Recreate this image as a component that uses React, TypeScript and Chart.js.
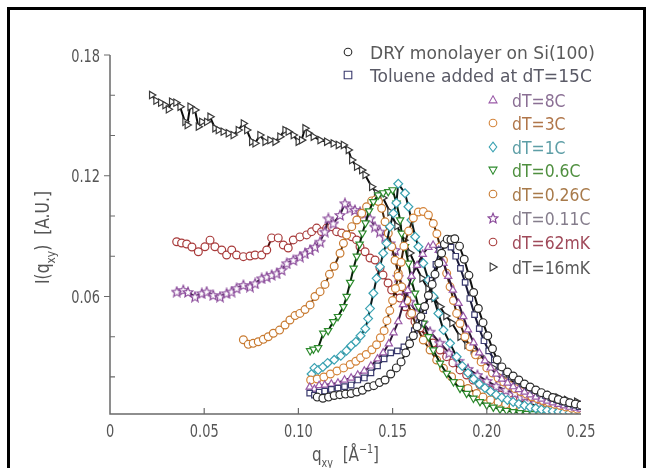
import React, { useEffect, useRef } from 'react';
import { Chart, registerables } from 'chart.js';

Chart.register(...registerables);

// ---------- axis ticks ----------
const xTickValues = [0, 0.05, 0.1, 0.15, 0.2, 0.25];
const xTickLabels = ['0', '0.05', '0.10', '0.15', '0.20', '0.25'];
const xInnerTicks = [0.05, 0.1, 0.15, 0.2];
const yTickValues = [0.06, 0.12, 0.18];
const yTickLabels = ['0.06', '0.12', '0.18'];
const yMinorTicks = [0.02, 0.04, 0.08, 0.1, 0.14, 0.16];

// ---------- series labels ----------
const seriesLabels = [
  'DRY monolayer on Si(100)',
  'Toluene added at dT=15C',
  'dT=8C',
  'dT=3C',
  'dT=1C',
  'dT=0.6C',
  'dT=0.26C',
  'dT=0.11C',
  'dT=62mK',
  'dT=16mK',
];

// ---------- data (q_xy, I) ----------
const dryQ = [0.110, 0.113, 0.116, 0.119, 0.122, 0.125, 0.128, 0.131, 0.134, 0.137, 0.140, 0.143, 0.146, 0.149, 0.152, 0.1545, 0.157, 0.159, 0.161, 0.163, 0.165, 0.167, 0.169, 0.171, 0.1725, 0.1745, 0.176, 0.1775, 0.179, 0.181, 0.183, 0.1855, 0.188, 0.1905, 0.193, 0.1955, 0.198, 0.2005, 0.203, 0.2055, 0.208, 0.211, 0.214, 0.217, 0.220, 0.223, 0.226, 0.229, 0.232, 0.235, 0.238, 0.241, 0.244, 0.247, 0.250];
const dryI = [0.0100, 0.0094, 0.0100, 0.0108, 0.0112, 0.0115, 0.0118, 0.0125, 0.0134, 0.0150, 0.0157, 0.0172, 0.0185, 0.0215, 0.0245, 0.0275, 0.0320, 0.0365, 0.0405, 0.0450, 0.0500, 0.0550, 0.0605, 0.0660, 0.0710, 0.0765, 0.0815, 0.0860, 0.0885, 0.0882, 0.0887, 0.0850, 0.0785, 0.0705, 0.0620, 0.0540, 0.0470, 0.0405, 0.0340, 0.0285, 0.0250, 0.0225, 0.0205, 0.0185, 0.0165, 0.0150, 0.0135, 0.0122, 0.0110, 0.0098, 0.0088, 0.0080, 0.0072, 0.0066, 0.0060];

const tolQ = [0.106, 0.1085, 0.111, 0.114, 0.1175, 0.121, 0.1245, 0.128, 0.1315, 0.135, 0.1385, 0.142, 0.1455, 0.149, 0.1525, 0.156, 0.159, 0.1615, 0.164, 0.1665, 0.169, 0.171, 0.173, 0.175, 0.177, 0.179, 0.181, 0.1835, 0.186, 0.1885, 0.191, 0.1935, 0.196, 0.1985, 0.201, 0.204, 0.207, 0.210, 0.213, 0.216, 0.219, 0.222, 0.225, 0.228, 0.231, 0.234, 0.237, 0.240, 0.243, 0.246, 0.249];
const tolI = [0.0120, 0.0110, 0.0125, 0.0130, 0.0138, 0.0145, 0.0152, 0.0160, 0.0185, 0.0195, 0.0220, 0.0255, 0.0290, 0.0320, 0.0330, 0.0350, 0.0385, 0.0430, 0.0470, 0.0530, 0.0600, 0.0680, 0.0760, 0.0830, 0.0855, 0.0860, 0.0845, 0.0800, 0.0740, 0.0670, 0.0590, 0.0510, 0.0440, 0.0380, 0.0330, 0.0285, 0.0250, 0.0225, 0.0200, 0.0180, 0.0165, 0.0150, 0.0135, 0.0120, 0.0108, 0.0096, 0.0086, 0.0076, 0.0068, 0.0060, 0.0053];

const t8Q = [0.106, 0.1085, 0.111, 0.114, 0.1175, 0.121, 0.1245, 0.128, 0.1315, 0.135, 0.1385, 0.142, 0.145, 0.148, 0.1505, 0.153, 0.1555, 0.158, 0.160, 0.163, 0.166, 0.169, 0.1715, 0.1745, 0.177, 0.1795, 0.182, 0.185, 0.1875, 0.190, 0.193, 0.196, 0.199, 0.202, 0.205, 0.208, 0.211, 0.214, 0.217, 0.220, 0.223, 0.226, 0.229, 0.232, 0.235, 0.238, 0.241, 0.244, 0.247, 0.250];
const t8I = [0.0150, 0.0140, 0.0158, 0.0160, 0.0165, 0.0170, 0.0185, 0.0195, 0.0210, 0.0230, 0.0255, 0.0290, 0.0320, 0.0365, 0.0420, 0.0475, 0.0560, 0.0630, 0.0700, 0.0755, 0.0810, 0.0845, 0.0855, 0.0830, 0.0765, 0.0700, 0.0632, 0.0566, 0.0500, 0.0435, 0.0370, 0.0320, 0.0280, 0.0245, 0.0215, 0.0190, 0.0170, 0.0152, 0.0138, 0.0125, 0.0112, 0.0100, 0.0090, 0.0080, 0.0072, 0.0064, 0.0057, 0.0050, 0.0045, 0.0040];

const t3Q = [0.1065, 0.110, 0.1135, 0.117, 0.1205, 0.124, 0.1275, 0.1305, 0.133, 0.136, 0.139, 0.1415, 0.1435, 0.1455, 0.147, 0.1485, 0.150, 0.1515, 0.153, 0.1545, 0.156, 0.1585, 0.161, 0.1637, 0.1663, 0.169, 0.1716, 0.1735, 0.1752, 0.177, 0.1787, 0.1805, 0.1823, 0.184, 0.1858, 0.1884, 0.191, 0.194, 0.197, 0.200, 0.203, 0.206, 0.209, 0.212, 0.215, 0.218, 0.221, 0.224, 0.227, 0.230, 0.233, 0.236, 0.239, 0.242, 0.245, 0.248];
const t3I = [0.0185, 0.0190, 0.0200, 0.0215, 0.0230, 0.0245, 0.0262, 0.0278, 0.0295, 0.0312, 0.0335, 0.0360, 0.0395, 0.0430, 0.0480, 0.0530, 0.0580, 0.0640, 0.0700, 0.0770, 0.0850, 0.0925, 0.0990, 0.1020, 0.1022, 0.1005, 0.0963, 0.0912, 0.0847, 0.0780, 0.0715, 0.0648, 0.0580, 0.0516, 0.0466, 0.0400, 0.0350, 0.0310, 0.0275, 0.0245, 0.0220, 0.0195, 0.0175, 0.0158, 0.0142, 0.0128, 0.0115, 0.0102, 0.0092, 0.0082, 0.0073, 0.0065, 0.0058, 0.0051, 0.0045, 0.0040];

const t1Q = [0.107, 0.1085, 0.1105, 0.113, 0.1155, 0.119, 0.1225, 0.1255, 0.128, 0.1305, 0.133, 0.1355, 0.137, 0.138, 0.1398, 0.1415, 0.1433, 0.145, 0.1468, 0.1486, 0.1504, 0.152, 0.153, 0.1566, 0.1584, 0.160, 0.162, 0.1637, 0.1663, 0.169, 0.1716, 0.1743, 0.177, 0.1805, 0.184, 0.187, 0.190, 0.193, 0.196, 0.199, 0.202, 0.205, 0.208, 0.211, 0.214, 0.217, 0.220, 0.223, 0.226, 0.229, 0.232, 0.235, 0.238, 0.241, 0.244, 0.247, 0.250];
const t1I = [0.0215, 0.0245, 0.0235, 0.0250, 0.0270, 0.0285, 0.0305, 0.0330, 0.0355, 0.0375, 0.0405, 0.0440, 0.0490, 0.0540, 0.0616, 0.0690, 0.0748, 0.0815, 0.0864, 0.0947, 0.1013, 0.1065, 0.1160, 0.1113, 0.1046, 0.0980, 0.0897, 0.0847, 0.0765, 0.0682, 0.0600, 0.0516, 0.0433, 0.0367, 0.0300, 0.0255, 0.0220, 0.0190, 0.0165, 0.0145, 0.0128, 0.0112, 0.0098, 0.0086, 0.0076, 0.0066, 0.0058, 0.0050, 0.0044, 0.0038, 0.0034, 0.0030, 0.0027, 0.0025, 0.0023, 0.0021, 0.0020];

const t06Q = [0.1062, 0.108, 0.1105, 0.1132, 0.1158, 0.1185, 0.121, 0.1239, 0.1256, 0.1275, 0.1293, 0.131, 0.1325, 0.134, 0.1356, 0.1375, 0.1398, 0.1424, 0.145, 0.1477, 0.150, 0.1521, 0.154, 0.1548, 0.1566, 0.1584, 0.160, 0.1619, 0.1637, 0.1663, 0.169, 0.1716, 0.1752, 0.1787, 0.1823, 0.1858, 0.1893, 0.1929, 0.1964, 0.200, 0.2035, 0.207, 0.2105, 0.214, 0.2175, 0.221, 0.2245, 0.228];
const t06I = [0.0330, 0.0338, 0.0345, 0.0417, 0.0430, 0.0475, 0.0500, 0.0549, 0.0600, 0.0670, 0.0740, 0.0800, 0.0860, 0.0915, 0.0965, 0.1025, 0.1071, 0.1104, 0.1115, 0.1121, 0.1130, 0.1063, 0.0980, 0.0914, 0.0847, 0.0765, 0.0680, 0.0616, 0.0550, 0.0467, 0.0400, 0.0334, 0.0268, 0.0218, 0.0176, 0.0143, 0.0118, 0.0094, 0.0077, 0.0060, 0.0050, 0.0040, 0.0033, 0.0027, 0.0022, 0.0019, 0.0017, 0.0016];

const t026Q = [0.0708, 0.0734, 0.076, 0.0787, 0.0814, 0.084, 0.0867, 0.090, 0.0929, 0.0955, 0.0982, 0.1008, 0.1035, 0.1062, 0.1088, 0.1115, 0.1141, 0.1165, 0.119, 0.1221, 0.1239, 0.1256, 0.1283, 0.131, 0.1336, 0.1362, 0.1389, 0.1410, 0.1425, 0.1442, 0.146, 0.1477, 0.1495, 0.1513, 0.153, 0.1548, 0.1575, 0.1601, 0.1627, 0.1663, 0.1699, 0.1734, 0.177, 0.1813, 0.1858, 0.190, 0.1946, 0.198, 0.202, 0.206, 0.210, 0.214, 0.218, 0.222, 0.226, 0.230, 0.234, 0.238, 0.242, 0.246, 0.250];
const t026I = [0.0385, 0.0362, 0.0367, 0.0375, 0.0387, 0.0400, 0.0417, 0.0433, 0.0458, 0.0483, 0.0505, 0.0516, 0.0535, 0.0558, 0.0600, 0.0624, 0.0660, 0.0710, 0.0750, 0.0815, 0.0864, 0.0905, 0.0947, 0.0980, 0.1013, 0.1046, 0.1075, 0.1080, 0.1072, 0.1038, 0.0971, 0.0914, 0.0847, 0.0780, 0.0715, 0.0648, 0.0580, 0.0516, 0.0450, 0.0384, 0.0334, 0.0284, 0.0243, 0.0201, 0.0168, 0.0143, 0.0118, 0.0100, 0.0086, 0.0074, 0.0064, 0.0056, 0.0050, 0.0045, 0.0040, 0.0036, 0.0033, 0.0030, 0.0028, 0.0026, 0.0024];

const t011Q = [0.0354, 0.0389, 0.0414, 0.0451, 0.0487, 0.0513, 0.0548, 0.0584, 0.0619, 0.0645, 0.0672, 0.0708, 0.0743, 0.077, 0.0805, 0.0832, 0.0858, 0.0885, 0.0911, 0.0938, 0.0973, 0.1008, 0.1035, 0.1062, 0.1088, 0.1115, 0.1140, 0.1159, 0.1185, 0.1221, 0.1247, 0.1274, 0.130, 0.1327, 0.1354, 0.138, 0.1406, 0.1433, 0.146, 0.1486, 0.1513, 0.1529, 0.1566, 0.1592, 0.1627, 0.1661, 0.1699, 0.175, 0.180, 0.185, 0.190, 0.195, 0.200, 0.205, 0.210, 0.215, 0.220, 0.225, 0.230, 0.235, 0.240, 0.245, 0.250];
const t011I = [0.0624, 0.0632, 0.0622, 0.0599, 0.0616, 0.0624, 0.0607, 0.0599, 0.0616, 0.0624, 0.0641, 0.0657, 0.0649, 0.0665, 0.0690, 0.0698, 0.0707, 0.0715, 0.0732, 0.0765, 0.0781, 0.0798, 0.0814, 0.0831, 0.0847, 0.0872, 0.0922, 0.0988, 0.0963, 0.1005, 0.1063, 0.1038, 0.1030, 0.1021, 0.1013, 0.0988, 0.0947, 0.0922, 0.0897, 0.0864, 0.0831, 0.0698, 0.0632, 0.0574, 0.0518, 0.0468, 0.0425, 0.0370, 0.0320, 0.0280, 0.0240, 0.0210, 0.0180, 0.0155, 0.0135, 0.0120, 0.0105, 0.0095, 0.0085, 0.0075, 0.0068, 0.0060, 0.0055];

const t62Q = [0.0354, 0.038, 0.0407, 0.0435, 0.0469, 0.0504, 0.0531, 0.0557, 0.0593, 0.0619, 0.0646, 0.0672, 0.0708, 0.0743, 0.077, 0.0805, 0.0832, 0.0858, 0.0893, 0.092, 0.0946, 0.0973, 0.1008, 0.1044, 0.107, 0.1097, 0.1123, 0.115, 0.1177, 0.1203, 0.123, 0.1256, 0.1283, 0.1309, 0.1327, 0.1354, 0.138, 0.1407, 0.1433, 0.1449, 0.1476, 0.1495, 0.1539, 0.1566, 0.1592, 0.1619, 0.1645, 0.1681, 0.1714, 0.1752, 0.1787, 0.182, 0.1858, 0.1893, 0.1927, 0.1964, 0.2017, 0.207, 0.2139, 0.2212, 0.2282, 0.2351, 0.2424, 0.2484];
const t62I = [0.0872, 0.0866, 0.0861, 0.0846, 0.0822, 0.0847, 0.0880, 0.0847, 0.0831, 0.0806, 0.0831, 0.0806, 0.0798, 0.0801, 0.0806, 0.0806, 0.0831, 0.0891, 0.0891, 0.0856, 0.0841, 0.0881, 0.0896, 0.0906, 0.0922, 0.0940, 0.0922, 0.0940, 0.0947, 0.0922, 0.0915, 0.0905, 0.0897, 0.0881, 0.0847, 0.0822, 0.0791, 0.0781, 0.0741, 0.0707, 0.0667, 0.0632, 0.0592, 0.0549, 0.0508, 0.0475, 0.0443, 0.0400, 0.0369, 0.0334, 0.0301, 0.0270, 0.0235, 0.0210, 0.0185, 0.0160, 0.0135, 0.0110, 0.0086, 0.0071, 0.0052, 0.0046, 0.0036, 0.0036];

const t16Q = [0.0221, 0.0244, 0.0269, 0.0292, 0.031, 0.0327, 0.035, 0.0372, 0.0398, 0.041, 0.0425, 0.0451, 0.0469, 0.0487, 0.0513, 0.0531, 0.0557, 0.0575, 0.0601, 0.0628, 0.0654, 0.0681, 0.0708, 0.0726, 0.0752, 0.077, 0.0796, 0.0823, 0.0849, 0.0876, 0.0902, 0.0929, 0.0946, 0.0973, 0.0999, 0.1017, 0.1035, 0.1053, 0.1079, 0.1115, 0.115, 0.1185, 0.1212, 0.1239, 0.1265, 0.1283, 0.1309, 0.1336, 0.1354, 0.1389, 0.1415, 0.1449, 0.1486, 0.1523, 0.156, 0.1592, 0.1624, 0.1656, 0.1688, 0.172, 0.1752, 0.1783, 0.1815, 0.1858, 0.1895, 0.1928, 0.1964, 0.200, 0.2033, 0.207, 0.2113, 0.2159, 0.2203, 0.2247, 0.2288, 0.2335, 0.2378, 0.2424, 0.2477];
const t16I = [0.1601, 0.1573, 0.1563, 0.1551, 0.1530, 0.1568, 0.1563, 0.1543, 0.1468, 0.1452, 0.1543, 0.1527, 0.1444, 0.1468, 0.1468, 0.1493, 0.1436, 0.1427, 0.1419, 0.1411, 0.1402, 0.1427, 0.1460, 0.1427, 0.1369, 0.1361, 0.1402, 0.1369, 0.1377, 0.1369, 0.1394, 0.1427, 0.1419, 0.1402, 0.1369, 0.1377, 0.1436, 0.1411, 0.1394, 0.1377, 0.1369, 0.1361, 0.1353, 0.1353, 0.1328, 0.1278, 0.1245, 0.1228, 0.1204, 0.1145, 0.1114, 0.1090, 0.1020, 0.0950, 0.0880, 0.0816, 0.0750, 0.0690, 0.0637, 0.0592, 0.0549, 0.0503, 0.0468, 0.0400, 0.0359, 0.0334, 0.0304, 0.0268, 0.0245, 0.0201, 0.0185, 0.0168, 0.0152, 0.0135, 0.0123, 0.0110, 0.0098, 0.0086, 0.0077];

const seriesQ = [dryQ, tolQ, t8Q, t3Q, t1Q, t06Q, t026Q, t011Q, t62Q, t16Q];
const seriesI = [dryI, tolI, t8I, t3I, t1I, t06I, t026I, t011I, t62I, t16I];

// ---------- styles ----------
const markerColors = ['#2a2a2a', '#3a3a6e', '#9a5aa8', '#d4843a', '#3aa2b2', '#2c8a2c', '#c87a30', '#8a4a9a', '#a83a3a', '#3a3a3a'];
const lineColors = ['#111111', '#1a1a38', '#301838', '#40240c', '#0c1a1a', '#082208', '#4a280c', '#301a38', '#4a0c0c', '#0c0c0c'];
const legendTextColors = ['#5a5a5a', '#5a5a66', '#8a6f94', '#b0764a', '#5d9ea6', '#4f8f3f', '#a87a4a', '#857d8c', '#a04a5a', '#5a5a5a'];
const markerStyles = ['circle', 'rect', 'triangle', 'circle', 'rectRot', 'triangle', 'circle', 'star5', 'circle', 'triangle'];
const markerRotations = [0, 0, 0, 0, 0, 180, 0, 0, 0, 90];

const FONT = "'DejaVu Sans', 'Liberation Sans', sans-serif";
const TEXT_GRAY = '#555555';

function makeStar(color: string, size: number): HTMLCanvasElement {
  const c = document.createElement('canvas');
  c.width = size;
  c.height = size;
  const g = c.getContext('2d')!;
  const cx = size / 2;
  const cy = size / 2 + 0.5;
  const ro = size / 2 - 0.8;
  const ri = ro * 0.45;
  g.beginPath();
  for (let i = 0; i < 10; i++) {
    const r = i % 2 === 0 ? ro : ri;
    const a = -Math.PI / 2 + (i * Math.PI) / 5;
    const px = cx + r * Math.cos(a);
    const py = cy + r * Math.sin(a);
    if (i === 0) g.moveTo(px, py);
    else g.lineTo(px, py);
  }
  g.closePath();
  g.fillStyle = '#ffffff';
  g.fill();
  g.strokeStyle = color;
  g.lineWidth = 1.2;
  g.stroke();
  return c;
}

function drawText(ctx: CanvasRenderingContext2D, s: string, x: number, y: number, size: number, color: string, align: string, sx: number) {
  ctx.save();
  ctx.font = `${size}px ${FONT}`;
  ctx.fillStyle = color;
  ctx.textBaseline = 'alphabetic';
  ctx.textAlign = 'left';
  const w = ctx.measureText(s).width * sx;
  const x0 = align === 'left' ? x : align === 'right' ? x - w : x - w / 2;
  ctx.translate(x0, y);
  ctx.scale(sx, 1);
  ctx.fillText(s, 0, 0);
  ctx.restore();
}

type Seg = { t: string; size: number; dy: number };
function drawRich(ctx: CanvasRenderingContext2D, segs: Seg[], cx: number, baseY: number, color: string, sx: number) {
  ctx.save();
  ctx.fillStyle = color;
  ctx.textBaseline = 'alphabetic';
  ctx.textAlign = 'left';
  let total = 0;
  const widths = segs.map((s) => {
    ctx.font = `${s.size}px ${FONT}`;
    const w = ctx.measureText(s.t).width * sx;
    total += w;
    return w;
  });
  let x = cx - total / 2;
  segs.forEach((s, i) => {
    ctx.font = `${s.size}px ${FONT}`;
    ctx.save();
    ctx.translate(x, baseY + s.dy);
    ctx.scale(sx, 1);
    ctx.fillText(s.t, 0, 0);
    ctx.restore();
    x += widths[i];
  });
  ctx.restore();
}

function drawMarker(ctx: CanvasRenderingContext2D, style: string, rot: number, x: number, y: number, color: string, star: HTMLCanvasElement | null) {
  const r = 3.8;
  ctx.save();
  ctx.strokeStyle = color;
  ctx.fillStyle = '#ffffff';
  ctx.lineWidth = 1.1;
  ctx.translate(x, y);
  ctx.rotate((rot * Math.PI) / 180);
  ctx.beginPath();
  if (style === 'circle') {
    ctx.arc(0, 0, r, 0, Math.PI * 2);
  } else if (style === 'rect') {
    ctx.rect(-r, -r, 2 * r, 2 * r);
  } else if (style === 'rectRot') {
    ctx.moveTo(0, -r * 1.3);
    ctx.lineTo(r, 0);
    ctx.lineTo(0, r * 1.3);
    ctx.lineTo(-r, 0);
    ctx.closePath();
  } else if (style === 'triangle') {
    ctx.moveTo(0, -r * 1.1);
    ctx.lineTo(r * 1.05, r * 0.75);
    ctx.lineTo(-r * 1.05, r * 0.75);
    ctx.closePath();
  }
  if (style === 'star5' && star) {
    ctx.drawImage(star, -star.width / 2, -star.height / 2);
  } else {
    ctx.fill();
    ctx.stroke();
  }
  ctx.restore();
}

export default function App() {
  const ref = useRef<HTMLCanvasElement | null>(null);

  useEffect(() => {
    document.body.style.margin = '0';
    document.body.style.background = '#ffffff';
    const canvas = ref.current;
    if (!canvas) return;

    const star = makeStar(markerColors[7], 12);

    const datasets = seriesQ.map((qs, i) => {
      const n = Math.min(qs.length, seriesI[i].length);
      const pts = [] as { x: number; y: number }[];
      for (let k = 0; k < n; k++) pts.push({ x: qs[k], y: seriesI[i][k] });
      return {
        label: seriesLabels[i],
        data: pts,
        showLine: true,
        borderColor: lineColors[i],
        borderWidth: 2,
        pointStyle: markerStyles[i] === 'star5' ? star : (markerStyles[i] as any),
        pointRotation: markerRotations[i],
        pointRadius: markerStyles[i] === 'rectRot' ? 4.4 : markerStyles[i] === 'triangle' ? 4.2 : 3.9,
        pointBorderColor: markerColors[i],
        pointBackgroundColor: '#ffffff',
        pointBorderWidth: 1.2,
        tension: 0,
      };
    });

    const decorPlugin = {
      id: 'decor',
      beforeDraw(chart: any) {
        const ctx = chart.ctx as CanvasRenderingContext2D;
        ctx.save();
        ctx.fillStyle = '#ffffff';
        ctx.fillRect(0, 0, chart.width, chart.height);
        ctx.restore();
      },
      afterDraw(chart: any) {
        const ctx = chart.ctx as CanvasRenderingContext2D;
        const xs = chart.scales.x;
        const ys = chart.scales.y;
        const area = chart.chartArea;
        ctx.save();
        // axes
        ctx.strokeStyle = '#6a6a6a';
        ctx.lineWidth = 1.5;
        ctx.beginPath();
        ctx.moveTo(area.left, ys.getPixelForValue(0.18));
        ctx.lineTo(area.left, area.bottom);
        ctx.lineTo(xs.getPixelForValue(0.25), area.bottom);
        ctx.stroke();
        // y major ticks (outside)
        ctx.lineWidth = 1.2;
        ctx.beginPath();
        yTickValues.forEach((v) => {
          const py = ys.getPixelForValue(v);
          ctx.moveTo(area.left - 6, py);
          ctx.lineTo(area.left, py);
        });
        // y minor ticks (inside)
        yMinorTicks.forEach((v) => {
          const py = ys.getPixelForValue(v);
          ctx.moveTo(area.left, py);
          ctx.lineTo(area.left + 5, py);
        });
        // x ticks (inside)
        xInnerTicks.forEach((v) => {
          const px = xs.getPixelForValue(v);
          ctx.moveTo(px, area.bottom);
          ctx.lineTo(px, area.bottom - 6);
        });
        ctx.stroke();
        ctx.restore();

        // tick labels
        yTickValues.forEach((v, i) => {
          drawText(ctx, yTickLabels[i], area.left - 10, ys.getPixelForValue(v) + 6.5, 18, TEXT_GRAY, 'right', 0.72);
        });
        xTickValues.forEach((v, i) => {
          drawText(ctx, xTickLabels[i], xs.getPixelForValue(v), area.bottom + 23, 18, TEXT_GRAY, 'center', 0.72);
        });

        // x title
        const xc = (xs.getPixelForValue(0) + xs.getPixelForValue(0.25)) / 2;
        drawRich(ctx, [
          { t: 'q', size: 19, dy: 0 },
          { t: 'xy', size: 12, dy: 6 },
          { t: '  [Å', size: 19, dy: 0 },
          { t: '−1', size: 12, dy: -8 },
          { t: ']', size: 19, dy: 0 },
        ], xc, 461, TEXT_GRAY, 0.8);

        // y title (rotated)
        const yc = (area.top + area.bottom) / 2 + 3;
        ctx.save();
        ctx.translate(49, yc);
        ctx.rotate(-Math.PI / 2);
        drawRich(ctx, [
          { t: 'I(q', size: 19, dy: 0 },
          { t: 'xy', size: 13, dy: 6 },
          { t: ')  [A.U.]', size: 19, dy: 0 },
        ], 0, 0, TEXT_GRAY, 0.82);
        ctx.restore();

        // legend
        const rows = [52, 75, 100, 123, 147, 170, 194, 218, 242, 267];
        seriesLabels.forEach((lab, i) => {
          const mx = i < 2 ? 348 : 493;
          const tx = i < 2 ? 370 : 512;
          drawMarker(ctx, markerStyles[i], markerRotations[i], mx, rows[i], markerColors[i], star);
          drawText(ctx, lab, tx, rows[i] + 7, 18, legendTextColors[i], 'left', i < 2 ? 0.95 : 0.87);
        });

        // frame
        ctx.save();
        ctx.strokeStyle = '#000000';
        ctx.lineWidth = 3;
        ctx.beginPath();
        ctx.moveTo(8.5, 480);
        ctx.lineTo(8.5, 8.5);
        ctx.lineTo(644.5, 8.5);
        ctx.lineTo(644.5, 480);
        ctx.stroke();
        ctx.restore();
      },
    };

    const chart = new Chart(canvas, {
      type: 'scatter',
      data: { datasets: datasets as any },
      options: {
        animation: false,
        responsive: false,
        maintainAspectRatio: false,
        events: [],
        layout: { padding: { top: 55, right: 69, left: 0, bottom: 0 } },
        plugins: { legend: { display: false }, tooltip: { enabled: false }, title: { display: false } },
        scales: {
          x: {
            type: 'linear',
            min: 0,
            max: 0.25,
            ticks: { display: false },
            grid: { display: false },
            border: { display: false },
            afterFit: (s: any) => { s.height = 54; },
          },
          y: {
            type: 'linear',
            min: 0.0016,
            max: 0.18,
            ticks: { display: false },
            grid: { display: false },
            border: { display: false },
            afterFit: (s: any) => { s.width = 110; },
          },
        },
      },
      plugins: [decorPlugin],
    });

    return () => chart.destroy();
  }, []);

  return (
    <div style={{ width: 650, height: 468, overflow: 'hidden' }}>
      <canvas ref={ref} width={650} height={468} style={{ display: 'block', width: 650, height: 468 }} />
    </div>
  );
}
